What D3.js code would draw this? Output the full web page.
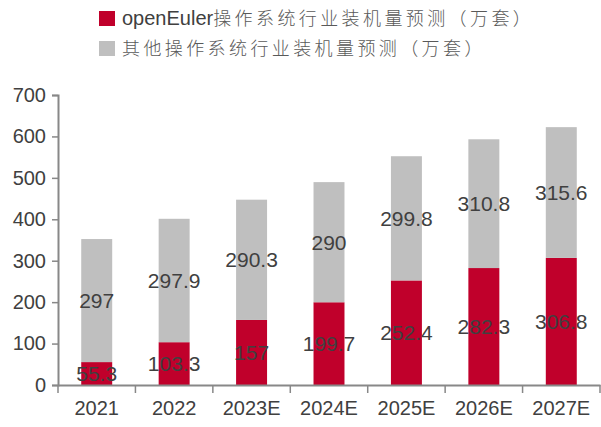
<!DOCTYPE html>
<html>
<head>
<meta charset="utf-8">
<script src="https://cdn.jsdelivr.net/npm/d3@7"></script>
<style>
  body { margin: 0; background: #fff; }
  text { font-family: "Liberation Sans", Arial, "Noto Sans CJK SC", sans-serif; }
</style>
</head>
<body>
<div id="plot"></div>
<script>
// Data
const years = ["2021", "2022", "2023E", "2024E", "2025E", "2026E", "2027E"];
const openEuler = [55.3, 103.3, 157, 199.7, 252.4, 282.3, 306.8];
const others = [297, 297.9, 290.3, 290, 299.8, 310.8, 315.6];
// legend labels: latin prefix + chinese part
const seriesLatin = ["openEuler", ""];
const seriesCn = ["操作系统行业装机量预测（万套）", "其他操作系统行业装机量预测（万套）"];
const yTicks = [0, 100, 200, 300, 400, 500, 600, 700];

const W = 601, H = 427;
const margin = { top: 95, right: 1, bottom: 42, left: 58 };
const width = W - margin.left - margin.right;
const height = H - margin.top - margin.bottom;

const colors = ["#C0002B", "#BFBFBF"];
const textColor = "#404040";
const axisColor = "#888888";

const svg = d3.select("#plot")
  .append("svg")
  .attr("width", W)
  .attr("height", H);

const g = svg.append("g")
  .attr("transform", `translate(${margin.left}, ${margin.top})`);

const table = years.map((y, i) => ({ year: y, a: openEuler[i], b: others[i] }));
const stacked = d3.stack().keys(["a", "b"])(table);

const x = d3.scaleBand()
  .domain(years)
  .range([0, width])
  .paddingInner(0.6)
  .paddingOuter(0.3);

const y = d3.scaleLinear()
  .domain([0, 700])
  .range([height, 0]);

// Bars
const layers = g.selectAll(".layer")
  .data(stacked)
  .enter()
  .append("g")
  .attr("fill", (d, i) => colors[i]);

layers.selectAll("rect")
  .data(d => d)
  .enter()
  .append("rect")
  .attr("x", d => x(d.data.year))
  .attr("y", d => y(d[1]))
  .attr("width", x.bandwidth())
  .attr("height", d => y(d[0]) - y(d[1]));

// Value labels centered in each segment
layers.selectAll("text")
  .data(d => d.map(v => ({ v, key: d.key })))
  .enter()
  .append("text")
  .attr("x", d => x(d.v.data.year) + x.bandwidth() / 2)
  .attr("y", d => y((d.v[0] + d.v[1]) / 2))
  .attr("dy", "0.36em")
  .attr("text-anchor", "middle")
  .style("font-size", "21px")
  .style("fill", textColor)
  .text(d => d.v.data[d.key]);

// Y axis
const yAxis = g.append("g")
  .call(d3.axisLeft(y).tickValues(yTicks).tickSize(6).tickPadding(6));
yAxis.select(".domain").attr("stroke", axisColor).attr("stroke-width", 2);
yAxis.selectAll(".tick line").attr("stroke", axisColor).attr("stroke-width", 1.5);
yAxis.selectAll("text")
  .style("font-size", "20px")
  .style("fill", textColor);

// X axis: labels at band centers, ticks at band boundaries
const xAxis = g.append("g")
  .attr("transform", `translate(0, ${height})`)
  .call(d3.axisBottom(x).tickSize(0).tickPadding(16));
xAxis.select(".domain").attr("stroke", axisColor).attr("stroke-width", 2);
xAxis.selectAll("text")
  .style("font-size", "20px")
  .style("fill", textColor);

xAxis.selectAll(".bound")
  .data(d3.range(years.length + 1))
  .enter()
  .append("line")
  .attr("x1", i => i * x.step())
  .attr("x2", i => i * x.step())
  .attr("y1", 0)
  .attr("y2", 8)
  .attr("stroke", axisColor)
  .attr("stroke-width", 1.5);

// Legend
const legend = svg.append("g")
  .attr("transform", "translate(99, 11)");

const item = legend.selectAll(".item")
  .data(seriesCn)
  .enter()
  .append("g")
  .attr("transform", (d, i) => `translate(0, ${i * 30})`);

item.append("rect")
  .attr("width", 16)
  .attr("height", 15)
  .attr("fill", (d, i) => colors[i]);

const label = item.append("text")
  .attr("x", 23)
  .attr("y", 8)
  .attr("dy", "0.36em")
  .style("fill", textColor);

label.append("tspan")
  .style("font-size", "20px")
  .text((d, i) => seriesLatin[i]);

label.append("tspan")
  .style("font-family", "'Noto Sans CJK SC', sans-serif")
  .style("font-size", "18px")
  .style("font-weight", 300)
  .style("letter-spacing", "3.4px")
  .style("fill", "#595959")
  .text(d => d);
</script>
</body>
</html>
